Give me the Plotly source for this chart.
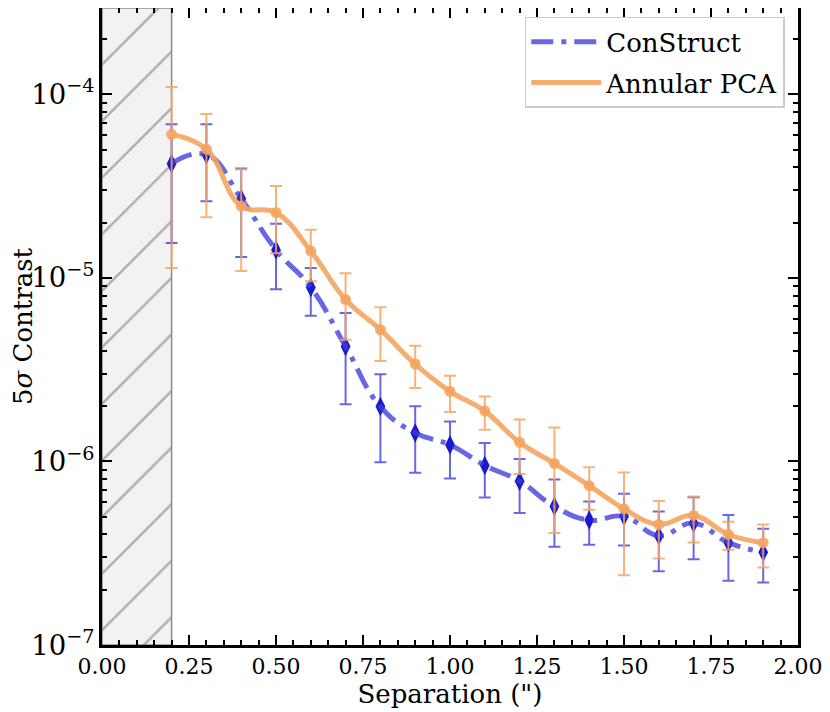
import plotly.graph_objects as go

# separations in arcsec
sep = [0.2, 0.3, 0.4, 0.5, 0.6, 0.7, 0.8, 0.9, 1.0, 1.1, 1.2, 1.3, 1.4, 1.5, 1.6, 1.7, 1.8, 1.9]

# ConStruct 5-sigma contrast, upper / lower bound of the error bar
cs_val = [4.19e-5, 4.69e-5, 2.70e-5, 1.42e-5, 8.87e-6, 4.23e-6, 1.99e-6, 1.43e-6, 1.23e-6,
          9.51e-7, 7.81e-7, 5.69e-7, 4.79e-7, 5.02e-7, 3.94e-7, 4.61e-7, 3.61e-7, 3.20e-7]
cs_hi = [6.86e-5, 6.86e-5, 3.94e-5, 1.97e-5, 1.13e-5, 6.43e-6, 2.98e-6, 2.00e-6, 1.65e-6,
         1.26e-6, 1.03e-6, 7.98e-7, 6.05e-7, 6.67e-7, 5.34e-7, 6.39e-7, 5.10e-7, 4.30e-7]
cs_lo = [1.55e-5, 2.61e-5, 1.30e-5, 8.66e-6, 6.21e-6, 2.05e-6, 9.91e-7, 8.68e-7, 8.08e-7,
         6.37e-7, 5.23e-7, 3.43e-7, 3.52e-7, 3.48e-7, 2.52e-7, 2.93e-7, 2.24e-7, 2.19e-7]

# Annular PCA
pca_val = [6.05e-5, 5.02e-5, 2.46e-5, 2.27e-5, 1.40e-5, 7.62e-6, 5.22e-6, 3.39e-6, 2.41e-6,
           1.88e-6, 1.27e-6, 9.75e-7, 7.38e-7, 5.52e-7, 4.54e-7, 5.08e-7, 4.00e-7, 3.61e-7]
pca_hi = [1.096e-4, 7.81e-5, 3.89e-5, 3.16e-5, 1.83e-5, 1.06e-5, 6.92e-6, 4.27e-6, 2.93e-6,
          2.26e-6, 1.69e-6, 1.53e-6, 9.30e-7, 8.71e-7, 6.08e-7, 6.45e-7, 4.69e-7, 4.54e-7]
pca_lo = [1.13e-5, 2.14e-5, 1.09e-5, 1.36e-5, 9.57e-6, 4.60e-6, 3.52e-6, 2.51e-6, 1.86e-6,
          1.49e-6, 8.53e-7, 4.07e-7, 5.45e-7, 2.40e-7, 2.96e-7, 3.62e-7, 3.30e-7, 2.64e-7]

iwa = 0.2            # inner working angle, hatched
y_min, y_max = 1e-7, 2.95e-4

BLUE_LINE = 'rgba(60,60,220,0.78)'
BLUE_ERR = 'rgba(40,40,220,0.7)'
BLUE_MK = 'rgb(25,25,205)'
ORANGE = 'rgba(244,164,96,0.9)'
FONT = 'DejaVu Serif'

fig = go.Figure()

# hatched region inside the inner working angle
fig.add_trace(go.Scatter(
    x=[0, iwa, iwa, 0, 0], y=[y_min, y_min, y_max, y_max, y_min],
    mode='lines', fill='toself',
    line=dict(color='rgb(140,140,140)', width=1.5),
    fillcolor='rgb(242,242,242)',
    fillpattern=dict(shape='/', bgcolor='rgb(242,242,242)', fgcolor='rgb(105,105,105)',
                     size=40, solidity=0.06),
    showlegend=False, hoverinfo='skip'))

# ConStruct
fig.add_trace(go.Scatter(
    x=sep, y=cs_val, mode='markers',
    marker=dict(symbol='diamond-tall', size=14, color=BLUE_MK),
    error_y=dict(type='data', symmetric=False,
                 array=[h - v for h, v in zip(cs_hi, cs_val)],
                 arrayminus=[v - l for v, l in zip(cs_val, cs_lo)],
                 color=BLUE_ERR, thickness=2, width=6),
    showlegend=False))
fig.add_trace(go.Scatter(
    x=sep, y=cs_val, mode='lines', name='ConStruct', legendgroup='a',
    line=dict(color=BLUE_LINE, width=5, shape='spline', smoothing=1.3, dash='22px,8px,5px,8px')))

# Annular PCA
fig.add_trace(go.Scatter(
    x=sep, y=pca_val, mode='markers',
    marker=dict(symbol='circle', size=11, color=ORANGE),
    error_y=dict(type='data', symmetric=False,
                 array=[h - v for h, v in zip(pca_hi, pca_val)],
                 arrayminus=[v - l for v, l in zip(pca_val, pca_lo)],
                 color='rgba(244,164,96,0.85)', thickness=2, width=6),
    showlegend=False))
fig.add_trace(go.Scatter(
    x=sep, y=pca_val, mode='lines', name='Annular PCA', legendgroup='b',
    line=dict(color=ORANGE, width=5, shape='spline', smoothing=1.2)))

# the page puts the figure 8 px in from the top-left corner
fig.update_layout(
    width=822, height=704,
    margin=dict(l=94, r=32, t=0, b=67, autoexpand=False),
    plot_bgcolor='white', paper_bgcolor='white',
    font=dict(family=FONT, size=22, color='black'),
    legend=dict(x=0.981, y=0.986, xanchor='right', yanchor='top',
                bgcolor='white', bordercolor='#cccccc', borderwidth=1.5,
                font=dict(size=26), traceorder='grouped', tracegroupgap=4,
                itemwidth=70),
)
fig.update_xaxes(
    range=[0, 2], dtick=0.25, tickformat='.2f', automargin=False,
    showline=True, linecolor='black', linewidth=3, mirror='allticks',
    ticks='inside', ticklen=10, tickwidth=2, tickcolor='black',
    minor=dict(ticks='inside', ticklen=5, tickwidth=1.5, dtick=0.05, tickcolor='black'),
    showgrid=False, zeroline=False,
    title=dict(text='Separation (")', standoff=0))
fig.update_yaxes(
    type='log', range=[-7, -3.53], dtick=1, exponentformat='power', automargin=False,
    showline=True, linecolor='black', linewidth=3, mirror='allticks',
    ticks='inside', ticklen=10, tickwidth=2, tickcolor='black',
    minor=dict(ticks='inside', ticklen=5, tickwidth=1.5, dtick='D1', tickcolor='black'),
    showgrid=False, zeroline=False,
    title=dict(text='5<i>σ</i> Contrast', standoff=2))

fig.write_html("out.html")
